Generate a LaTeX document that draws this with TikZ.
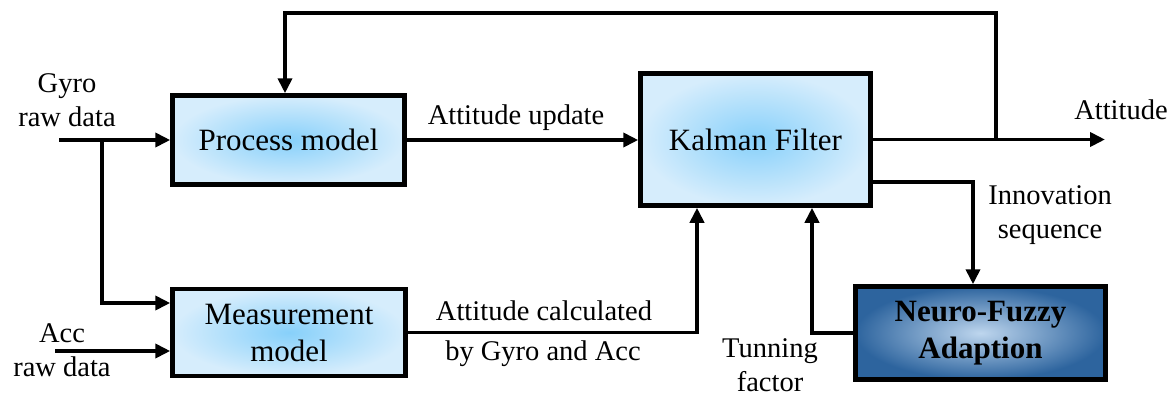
\documentclass[tikz,border=0pt]{standalone}
\usepackage{fontspec}
\setmainfont{Liberation Serif}
\usetikzlibrary{arrows.meta,calc}
\definecolor{kfin}{RGB}{135,208,250}
\definecolor{kfout}{RGB}{214,237,252}
\definecolor{nfin}{RGB}{190,214,238}
\definecolor{nfout}{RGB}{45,100,158}
\tikzset{
  blkbox/.style={draw, line width=4.5pt, inner color=kfin, outer color=kfout,
    align=center, inner sep=0pt, font=\fontsize{31}{37}\selectfont},
  nfbox/.style={draw, line width=4.5pt, inner color=nfin, outer color=nfout,
    align=center, inner sep=0pt, font=\fontsize{31}{37}\selectfont\bfseries},
  lab/.style={align=center, inner sep=0pt, font=\fontsize{28.5}{34}\selectfont},
  conn/.style={line width=3.8pt, -{Triangle[length=15pt,width=14pt]}}
}
\begin{document}
\begin{tikzpicture}[x=1pt,y=-1pt]
\useasboundingbox (0,0) rectangle (1176,397);
\fill[white] (0,0) rectangle (1176,397);
% boxes
\node[blkbox, minimum width=232pt, minimum height=89pt] (pm) at (288.5,140) {Process model};
\node[blkbox, minimum width=233pt, minimum height=87pt] (mm) at (289,332.5) {Measurement\\model};
\node[blkbox, minimum width=230pt, minimum height=132pt] (kf) at (755.5,139.5) {Kalman Filter};
\node[nfbox, minimum width=250pt, minimum height=93pt] (nf) at (980.5,333) {Neuro-Fuzzy\\Adaption};
% coordinates
\coordinate (gin) at (59,140);
\coordinate (br) at (102,140);
\coordinate (ain) at (55,351);
\coordinate (aout) at (1105,137);
\coordinate (tap) at (996,139.5);
\coordinate (topy) at (0,13);
% connectors
\draw[conn] (gin) -- (pm.west);
\draw[conn] (br) |- ([yshift=29.5pt]mm.west);
\draw[conn] (ain) -- (ain -| mm.west);
\draw[conn] (pm.east) -- (pm.east -| kf.west);
\draw[conn] (mm.east) -| ([xshift=-58.5pt]kf.south);
\draw[conn] (nf.west) -| ([xshift=56.5pt]kf.south);
\draw[conn] ([yshift=-42.5pt]kf.east) -| ([xshift=-7.5pt]nf.north);
\draw[conn] (kf.east) -- (kf.east -| aout);
\draw[conn] (tap) -- (tap |- topy) -| ([xshift=-3.5pt]pm.north);
% labels
\node[lab] (lgyro) at (67,100) {Gyro\\raw data};
\node[lab] (lacc) at (62,350) {Acc\\raw data};
\node[lab] (lupd) at (516,118) {Attitude update};
\node[lab] (lcalc) at (544,311) {Attitude calculated};
\node[lab] (lby) at (543,354) {by Gyro and Acc};
\node[lab] (linn) at (1050,215) {Innovation\\sequence};
\node[lab] (ltun) at (770,365) {Tunning\\factor};
\node[lab] (latt) at (1121,110) {Attitude};
\end{tikzpicture}
\end{document}
